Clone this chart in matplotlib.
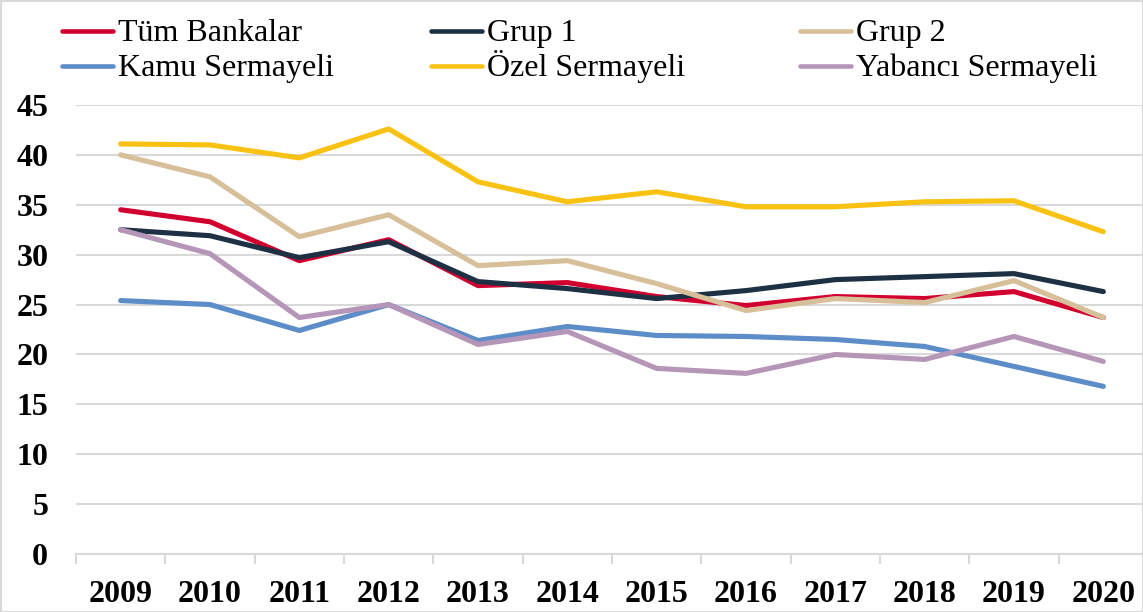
import matplotlib.pyplot as plt
from matplotlib.patches import Rectangle
from matplotlib.lines import Line2D
from matplotlib.ticker import FixedLocator

years = ["2009", "2010", "2011", "2012", "2013", "2014",
         "2015", "2016", "2017", "2018", "2019", "2020"]

tum_bankalar = [34.5, 33.3, 29.4, 31.5, 26.9, 27.2, 25.8, 24.9, 25.8, 25.6, 26.3, 23.7]
grup1 = [32.5, 31.9, 29.7, 31.3, 27.3, 26.6, 25.6, 26.4, 27.5, 27.8, 28.1, 26.3]
grup2 = [40.0, 37.8, 31.8, 34.0, 28.9, 29.4, 27.1, 24.4, 25.6, 25.2, 27.4, 23.7]
kamu = [25.4, 25.0, 22.4, 25.0, 21.4, 22.8, 21.9, 21.8, 21.5, 20.8, 18.8, 16.8]
ozel = [41.1, 41.0, 39.7, 42.6, 37.3, 35.3, 36.3, 34.8, 34.8, 35.3, 35.4, 32.3]
yabanci = [32.5, 30.1, 23.7, 25.0, 21.0, 22.3, 18.6, 18.1, 20.0, 19.5, 21.8, 19.3]

series = [
    ("Tüm Bankalar", tum_bankalar, "#D2002F"),
    ("Grup 1", grup1, "#1D3044"),
    ("Grup 2", grup2, "#D6BF99"),
    ("Kamu Sermayeli", kamu, "#5C8DC9"),
    ("Özel Sermayeli", ozel, "#F9C212"),
    ("Yabancı Sermayeli", yabanci, "#B696B8"),
]

plt.rcParams["font.family"] = ["Liberation Serif", "DejaVu Serif"]

W, H = 1143, 612
fig = plt.figure(figsize=(W / 100, H / 100), dpi=100)
ax = fig.add_axes([76 / W, 58 / H, 1072 / W, (554 - 105) / H])

x = list(range(len(years)))
for name, vals, color in series:
    ax.plot(x, vals, color=color, lw=3.7, solid_capstyle="round",
            solid_joinstyle="round", label=name)

ax.set_xlim(-0.5, len(years) - 0.5)
ax.set_ylim(0, 45)
ax.set_yticks(range(0, 50, 5))
ax.set_xticks(x)
ax.set_xticklabels(years, fontsize=23, fontweight="bold")
ax.tick_params(axis="y", labelsize=23, length=0, pad=20)
for lab in ax.get_yticklabels():
    lab.set_fontweight("bold")
ax.tick_params(axis="x", which="major", length=0, pad=19)
ax.xaxis.set_minor_locator(FixedLocator([i - 0.5 for i in range(len(years) + 1)]))
ax.tick_params(axis="x", which="minor", length=7, width=1.5, color="#d9d9d9")

ax.grid(axis="y", color="#d9d9d9", lw=1.5)
ax.set_axisbelow(True)
for side in ["top", "right", "left"]:
    ax.spines[side].set_visible(False)
ax.spines["bottom"].set_color("#d9d9d9")
ax.spines["bottom"].set_linewidth(1.5)

# legend laid out by hand: 3 columns, 2 rows (pixel positions from the reference)
col_x = [60, 429, 798]
row_y = [31, 66]
for i, (name, vals, color) in enumerate(series):
    cx = col_x[i % 3]
    ry = row_y[i // 3]
    fig.add_artist(Line2D([(cx + 2) / W, (cx + 53) / W], [1 - ry / H] * 2,
                          transform=fig.transFigure, color=color, lw=3.3,
                          solid_capstyle="round"))
    fig.text((cx + 58) / W, 1 - (ry + 10) / H, name, fontsize=23,
             va="baseline", ha="left")

fig.patches.append(Rectangle((0.5 / W, 0.5 / H), 1 - 1 / W, 1 - 1 / H,
                             transform=fig.transFigure, fill=False,
                             edgecolor="#d9d9d9", lw=1.5))

fig.savefig("out.png", dpi=100)
